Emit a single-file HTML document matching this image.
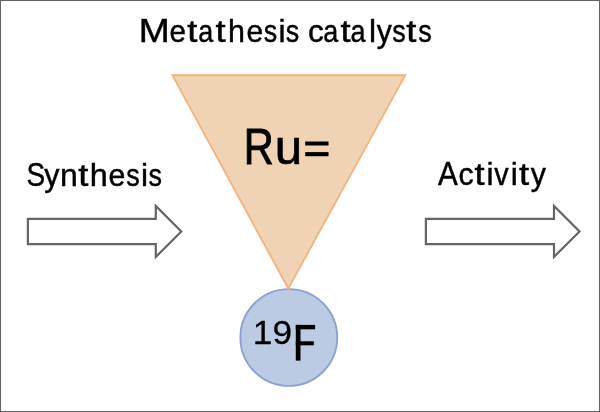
<!DOCTYPE html>
<html><head><meta charset="utf-8">
<style>
html,body{margin:0;padding:0;background:#fff;}
body{width:600px;height:412px;overflow:hidden;position:relative;}
svg{position:absolute;left:0;top:0;will-change:transform;}
text{font-family:"Liberation Sans",sans-serif;fill:#000;}
</style></head><body>
<svg width="600" height="412" viewBox="0 0 600 412">
<rect x="0.5" y="0.5" width="599" height="411" fill="#fff" stroke="#636363" stroke-width="1"/>
<text transform="translate(138.67,41.9) scale(1.128,1)" font-size="33.0" stroke="#000" stroke-width="0.45">M</text>
<text transform="translate(169.42,41.9) scale(0.933,1)" font-size="31.7" stroke="#000" stroke-width="0.45">e</text>
<text transform="translate(187.36,41.9) scale(1.150,1)" font-size="31.7" stroke="#000" stroke-width="0.45">t</text>
<text transform="translate(198.34,41.9) scale(0.850,1)" font-size="31.7" stroke="#000" stroke-width="0.45">a</text>
<text transform="translate(215.61,41.9) scale(1.150,1)" font-size="31.7" stroke="#000" stroke-width="0.45">t</text>
<text transform="translate(227.97,41.9) scale(0.961,1)" font-size="31.7" stroke="#000" stroke-width="0.45">h</text>
<text transform="translate(246.40,41.9) scale(0.946,1)" font-size="31.7" stroke="#000" stroke-width="0.45">e</text>
<text transform="translate(263.68,41.9) scale(0.850,1)" font-size="31.7" stroke="#000" stroke-width="0.45">s</text>
<text transform="translate(278.51,41.9) scale(1.000,1)" font-size="31.7" stroke="#000" stroke-width="0.45">i</text>
<text transform="translate(285.66,41.9) scale(0.850,1)" font-size="31.7" stroke="#000" stroke-width="0.45">s</text>
<text transform="translate(307.98,41.9) scale(0.998,1)" font-size="31.7" stroke="#000" stroke-width="0.45">c</text>
<text transform="translate(323.17,41.9) scale(0.850,1)" font-size="31.7" stroke="#000" stroke-width="0.45">a</text>
<text transform="translate(340.48,41.9) scale(1.150,1)" font-size="31.7" stroke="#000" stroke-width="0.45">t</text>
<text transform="translate(350.47,41.9) scale(0.850,1)" font-size="31.7" stroke="#000" stroke-width="0.45">a</text>
<text transform="translate(369.01,41.9) scale(1.000,1)" font-size="31.7" stroke="#000" stroke-width="0.45">l</text>
<text transform="translate(376.75,41.9) scale(0.953,1)" font-size="31.7" stroke="#000" stroke-width="0.45">y</text>
<text transform="translate(392.28,41.9) scale(0.850,1)" font-size="31.7" stroke="#000" stroke-width="0.45">s</text>
<text transform="translate(406.36,41.9) scale(1.150,1)" font-size="31.7" stroke="#000" stroke-width="0.45">t</text>
<text transform="translate(418.21,41.9) scale(0.850,1)" font-size="31.7" stroke="#000" stroke-width="0.45">s</text>
<text transform="translate(26.52,185.5) scale(0.850,1)" font-size="33.0" stroke="#000" stroke-width="0.45">S</text>
<text transform="translate(44.25,185.5) scale(0.959,1)" font-size="31.7" stroke="#000" stroke-width="0.45">y</text>
<text transform="translate(60.02,185.5) scale(1.009,1)" font-size="31.7" stroke="#000" stroke-width="0.45">n</text>
<text transform="translate(78.16,185.5) scale(1.150,1)" font-size="31.7" stroke="#000" stroke-width="0.45">t</text>
<text transform="translate(89.83,185.5) scale(1.021,1)" font-size="31.7" stroke="#000" stroke-width="0.45">h</text>
<text transform="translate(108.44,185.5) scale(0.957,1)" font-size="31.7" stroke="#000" stroke-width="0.45">e</text>
<text transform="translate(126.33,185.5) scale(0.850,1)" font-size="31.7" stroke="#000" stroke-width="0.45">s</text>
<text transform="translate(141.01,185.5) scale(1.000,1)" font-size="31.7" stroke="#000" stroke-width="0.45">i</text>
<text transform="translate(148.58,185.5) scale(0.850,1)" font-size="31.7" stroke="#000" stroke-width="0.45">s</text>
<text transform="translate(437.95,185.4) scale(0.900,1)" font-size="33.0" stroke="#000" stroke-width="0.45">A</text>
<text transform="translate(458.44,185.4) scale(0.954,1)" font-size="31.7" stroke="#000" stroke-width="0.45">c</text>
<text transform="translate(474.56,185.4) scale(1.150,1)" font-size="31.7" stroke="#000" stroke-width="0.45">t</text>
<text transform="translate(486.56,185.4) scale(1.000,1)" font-size="31.7" stroke="#000" stroke-width="0.45">i</text>
<text transform="translate(494.26,185.4) scale(0.908,1)" font-size="31.7" stroke="#000" stroke-width="0.45">v</text>
<text transform="translate(510.71,185.4) scale(1.000,1)" font-size="31.7" stroke="#000" stroke-width="0.45">i</text>
<text transform="translate(519.01,185.4) scale(1.150,1)" font-size="31.7" stroke="#000" stroke-width="0.45">t</text>
<text transform="translate(530.85,185.4) scale(0.959,1)" font-size="31.7" stroke="#000" stroke-width="0.45">y</text>
<circle cx="288.8" cy="337.5" r="48.4" fill="#BCCBE4" stroke="#8BA3D1" stroke-width="1.9"/>
<polygon points="172.4,75.3 405.2,75.3 288.3,288.5" fill="#F0D2B4" stroke="#F1B580" stroke-width="1.9"/>
<text transform="translate(243.85,164.4) scale(0.822,1)" font-size="50.5" stroke="#000" stroke-width="0.9">R</text>
<text transform="translate(274.76,164.3) scale(1.024,1)" font-size="48" stroke="#000" stroke-width="0.7">u</text>
<rect x="305.2" y="141.5" width="23.3" height="4" fill="#000"/>
<rect x="305.2" y="152.1" width="23.3" height="4.1" fill="#000"/>
<text transform="translate(252.8,343.5) scale(1.04,1)" font-size="33.9" stroke="#000" stroke-width="0.25">19</text>
<rect x="295.8" y="324.9" width="4.7" height="35.7" fill="#000"/>
<rect x="295.8" y="324.9" width="19.3" height="4.4" fill="#000"/>
<rect x="295.8" y="341.3" width="18" height="4.0" fill="#000"/>
<polygon points="27.9,218.8 155.8,218.8 155.8,206 181.3,231.5 155.8,256.9 155.8,244.2 27.9,244.2" fill="#fff" stroke="#656565" stroke-width="2.2"/>
<polygon points="425.9,218.8 554,218.8 554,206 579.5,231.5 554,256.9 554,244.2 425.9,244.2" fill="#fff" stroke="#656565" stroke-width="2.2"/>
</svg>
</body></html>
